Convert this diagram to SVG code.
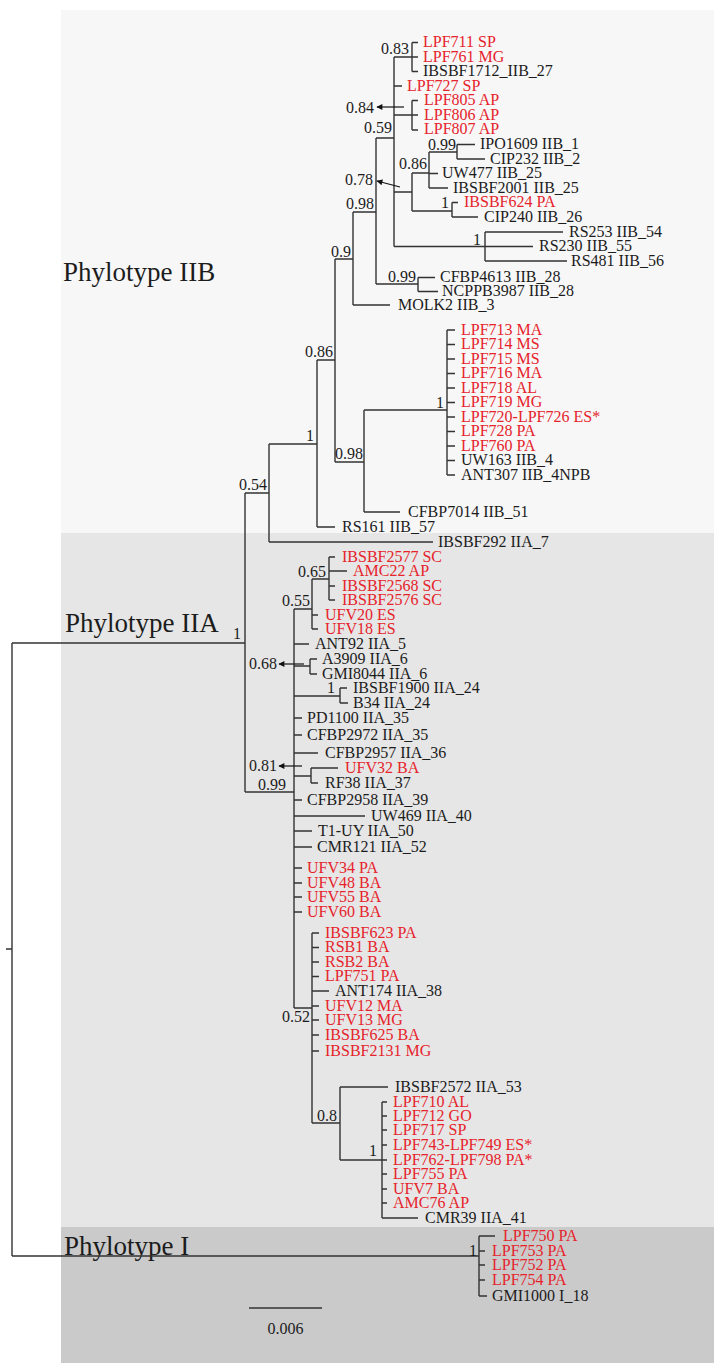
<svg xmlns="http://www.w3.org/2000/svg" width="714" height="1363" viewBox="0 0 714 1363">
<style>
  text { font-family: "Liberation Serif", "Times New Roman", serif; font-size: 16px; }
  .k { fill: #1c1c1c; }
  .r { fill: #e6232b; }
  .sv { fill: #1c1c1c; text-anchor: end; }
  .ph { fill: #1c1c1c; font-size: 27px; }
  .br { fill: none; stroke: #333; stroke-width: 1.4; }
  .ar { fill: none; stroke: #111; stroke-width: 1.2; }
</style>
<defs>
  <marker id="head" viewBox="0 0 10 10" refX="9" refY="5" markerWidth="7" markerHeight="6" orient="auto" markerUnits="userSpaceOnUse">
    <path d="M0,0 L10,5 L0,10 Z" fill="#111"/>
  </marker>
</defs>

<!-- clade panels -->
<g id="panels">
  <rect x="61" y="10" width="653" height="523" fill="#f7f7f7"/>
  <rect x="61" y="533" width="653" height="694" fill="#e6e6e6"/>
  <rect x="61" y="1227" width="653" height="136" fill="#cacaca"/>
</g>

<g id="clade-labels">
  <text class="ph" x="63" y="281">Phylotype IIB</text>
  <text class="ph" x="65" y="632">Phylotype IIA</text>
  <text class="ph" x="64" y="1255">Phylotype I</text>
</g>

<!-- tree branches -->
<g id="connectors" class="br">
  <path d="M6,949H12 M12,643V1256 M12,643H245 M12,1256H479"/>
  <!-- phylotype II -->
  <path d="M245,493V792 M245,493H269 M245,792H294"/>
  <path d="M269,444V542 M269,444H317 M269,542H433"/>
  <path d="M317,360V527 M317,360H335 M317,527H335"/>
  <path d="M335,259V462 M335,259H353 M335,462H364"/>
  <path d="M353,212V305 M353,212H376 M353,305H390"/>
  <path d="M376,138V284 M376,138H394 M376,284H418"/>
  <path d="M418,277.5V291.5 M418,277.5H435 M418,291.5H438"/>
  <path d="M394,57V246.5 M394,57H412 M394,86H402 M394,115H412 M394,192H412 M394,246.5H485"/>
  <path d="M412,42.5V71.5 M412,42.5H418 M412,57H418 M412,71.5H418"/>
  <path d="M412,100.5V130 M412,100.5H418 M412,115H418 M412,130H418"/>
  <path d="M412,173V211 M412,173H429 M412,211H452"/>
  <path d="M429,152V188 M429,152H457 M429,173.5H438 M429,188H448"/>
  <path d="M457,144.5V159 M457,144.5H475 M457,159H485"/>
  <path d="M452,202.5V217 M452,202.5H458 M452,217H478"/>
  <path d="M485,232V261 M485,232H563 M485,246.5H533 M485,261H567"/>
  <path d="M364,410V512 M364,410H447 M364,512H400"/>
  <path d="M447,330V475 M447,330H455 M447,344.5H455 M447,359H455 M447,373.5H455 M447,388H455 M447,402.5H455 M447,417H455 M447,431.5H455 M447,446H455 M447,460.5H455 M447,475H455"/>
  <!-- phylotype IIA -->
  <path d="M294,609V1008 M294,609H312 M294,644H309 M294,666H310 M294,696H340 M294,718H302 M294,735H302 M294,753H318 M294,776H311 M294,800H302 M294,816H365 M294,831H312 M294,847H312 M294,868H302 M294,883H302 M294,897H302 M294,912H302 M294,1008H312"/>
  <path d="M312,579V629 M312,579H329 M312,615H318 M312,629H318"/>
  <path d="M329,557V600 M329,557H335 M329,571H347 M329,586H335 M329,600H335"/>
  <path d="M310,659V674 M310,659H317 M310,674H317"/>
  <path d="M340,688V703 M340,688H347 M340,703H348"/>
  <path d="M311,768V783 M311,768H338 M311,783H318"/>
  <path d="M312,933V1123 M312,933H319 M312,947.5H319 M312,962H319 M312,976.5H319 M312,991H329 M312,1006H319 M312,1020H319 M312,1035H319 M312,1051H319 M312,1123H340"/>
  <path d="M340,1087V1160 M340,1087H388 M340,1160H382"/>
  <path d="M382,1102V1218 M382,1102H387 M382,1116H387 M382,1130H387 M382,1145H387 M382,1160H387 M382,1174H387 M382,1189H387 M382,1203H387 M382,1218H418"/>
  <!-- phylotype I -->
  <path d="M479,1236V1296 M479,1236H495 M479,1251H485 M479,1265H485 M479,1280H485 M479,1296H487"/>
  <!-- pointers from support values to their nodes -->
  <g class="ar">
    <path d="M404,107H377" marker-end="url(#head)"/>
    <path d="M400,187L377,181" marker-end="url(#head)"/>
    <path d="M304,664H279" marker-end="url(#head)"/>
    <path d="M302,766H279" marker-end="url(#head)"/>
  </g>
</g>

<!-- support values -->
<g id="support">
  <text class="sv" x="409" y="53.5">0.83</text>
  <text class="sv" x="374" y="112.5">0.84</text>
  <text class="sv" x="392" y="133">0.59</text>
  <text class="sv" x="456" y="150">0.99</text>
  <text class="sv" x="427" y="169">0.86</text>
  <text class="sv" x="373" y="184.5">0.78</text>
  <text class="sv" x="449" y="208">1</text>
  <text class="sv" x="374" y="208.5">0.98</text>
  <text class="sv" x="481" y="245">1</text>
  <text class="sv" x="351" y="257">0.9</text>
  <text class="sv" x="416" y="282">0.99</text>
  <text class="sv" x="333" y="357">0.86</text>
  <text class="sv" x="444" y="408">1</text>
  <text class="sv" x="314" y="441">1</text>
  <text class="sv" x="363" y="459">0.98</text>
  <text class="sv" x="267" y="490">0.54</text>
  <text class="sv" x="241" y="639">1</text>
  <text class="sv" x="326" y="577">0.65</text>
  <text class="sv" x="310" y="606">0.55</text>
  <text class="sv" x="277" y="669">0.68</text>
  <text class="sv" x="335" y="693">1</text>
  <text class="sv" x="277" y="771">0.81</text>
  <text class="sv" x="286" y="790">0.99</text>
  <text class="sv" x="310" y="1022">0.52</text>
  <text class="sv" x="337" y="1121">0.8</text>
  <text class="sv" x="377" y="1156">1</text>
  <text class="sv" x="477" y="1256">1</text>
</g>

<!-- leaves: phylotype IIB -->
<g id="n-LPF711"><text class="r" x="423" y="47">LPF711 SP</text></g>
<g id="n-LPF761"><text class="r" x="423" y="61.5">LPF761 MG</text></g>
<g id="n-IBSBF1712"><text class="k" x="423" y="76">IBSBF1712_IIB_27</text></g>
<g id="n-LPF727"><text class="r" x="407" y="90.5">LPF727 SP</text></g>
<g id="n-LPF805"><text class="r" x="424" y="105">LPF805 AP</text></g>
<g id="n-LPF806"><text class="r" x="424" y="119.5">LPF806 AP</text></g>
<g id="n-LPF807"><text class="r" x="424" y="134">LPF807 AP</text></g>
<g id="n-IPO1609"><text class="k" x="480" y="149">IPO1609 IIB_1</text></g>
<g id="n-CIP232"><text class="k" x="490" y="163.5">CIP232 IIB_2</text></g>
<g id="n-UW477"><text class="k" x="442" y="178">UW477 IIB_25</text></g>
<g id="n-IBSBF2001"><text class="k" x="453" y="192.5">IBSBF2001 IIB_25</text></g>
<g id="n-IBSBF624"><text class="r" x="464" y="207">IBSBF624 PA</text></g>
<g id="n-CIP240"><text class="k" x="484" y="221.5">CIP240 IIB_26</text></g>
<g id="n-RS253"><text class="k" x="569" y="236.5">RS253 IIB_54</text></g>
<g id="n-RS230"><text class="k" x="539" y="251">RS230 IIB_55</text></g>
<g id="n-RS481"><text class="k" x="571" y="265.5">RS481 IIB_56</text></g>
<g id="n-CFBP4613"><text class="k" x="440" y="282">CFBP4613 IIB_28</text></g>
<g id="n-NCPPB3987"><text class="k" x="442" y="296">NCPPB3987 IIB_28</text></g>
<g id="n-MOLK2"><text class="k" x="398" y="309.5">MOLK2 IIB_3</text></g>
<g id="n-LPF713"><text class="r" x="461" y="334.5">LPF713 MA</text></g>
<g id="n-LPF714"><text class="r" x="461" y="349">LPF714 MS</text></g>
<g id="n-LPF715"><text class="r" x="461" y="363.5">LPF715 MS</text></g>
<g id="n-LPF716"><text class="r" x="461" y="378">LPF716 MA</text></g>
<g id="n-LPF718"><text class="r" x="461" y="392.5">LPF718 AL</text></g>
<g id="n-LPF719"><text class="r" x="461" y="407">LPF719 MG</text></g>
<g id="n-LPF720"><text class="r" x="461" y="421.5">LPF720-LPF726 ES*</text></g>
<g id="n-LPF728"><text class="r" x="461" y="436">LPF728 PA</text></g>
<g id="n-LPF760"><text class="r" x="461" y="450.5">LPF760 PA</text></g>
<g id="n-UW163"><text class="k" x="461" y="465">UW163 IIB_4</text></g>
<g id="n-ANT307"><text class="k" x="461" y="479.5">ANT307 IIB_4NPB</text></g>
<g id="n-CFBP7014"><text class="k" x="408" y="516.5">CFBP7014 IIB_51</text></g>
<g id="n-RS161"><text class="k" x="342" y="531.5">RS161 IIB_57</text></g>
<g id="n-IBSBF292"><text class="k" x="438" y="546.5">IBSBF292 IIA_7</text></g>

<!-- leaves: phylotype IIA -->
<g id="n-IBSBF2577"><text class="r" x="342" y="561.5">IBSBF2577 SC</text></g>
<g id="n-AMC22"><text class="r" x="353" y="575.5">AMC22 AP</text></g>
<g id="n-IBSBF2568"><text class="r" x="342" y="590.5">IBSBF2568 SC</text></g>
<g id="n-IBSBF2576"><text class="r" x="342" y="604.5">IBSBF2576 SC</text></g>
<g id="n-UFV20"><text class="r" x="325" y="619.5">UFV20 ES</text></g>
<g id="n-UFV18"><text class="r" x="325" y="633.5">UFV18 ES</text></g>
<g id="n-ANT92"><text class="k" x="315" y="648.5">ANT92 IIA_5</text></g>
<g id="n-A3909"><text class="k" x="322" y="663.5">A3909 IIA_6</text></g>
<g id="n-GMI8044"><text class="k" x="322" y="678.5">GMI8044 IIA_6</text></g>
<g id="n-IBSBF1900"><text class="k" x="353" y="692.5">IBSBF1900 IIA_24</text></g>
<g id="n-B34"><text class="k" x="353" y="707.5">B34 IIA_24</text></g>
<g id="n-PD1100"><text class="k" x="307" y="722.5">PD1100 IIA_35</text></g>
<g id="n-CFBP2972"><text class="k" x="307" y="739.5">CFBP2972 IIA_35</text></g>
<g id="n-CFBP2957"><text class="k" x="325" y="757.5">CFBP2957 IIA_36</text></g>
<g id="n-UFV32"><text class="r" x="345" y="772.5">UFV32 BA</text></g>
<g id="n-RF38"><text class="k" x="325" y="787.5">RF38 IIA_37</text></g>
<g id="n-CFBP2958"><text class="k" x="307" y="804.5">CFBP2958 IIA_39</text></g>
<g id="n-UW469"><text class="k" x="371" y="820.5">UW469 IIA_40</text></g>
<g id="n-T1-UY"><text class="k" x="318" y="835.5">T1-UY IIA_50</text></g>
<g id="n-CMR121"><text class="k" x="317" y="851.5">CMR121 IIA_52</text></g>
<g id="n-UFV34"><text class="r" x="307" y="872.5">UFV34 PA</text></g>
<g id="n-UFV48"><text class="r" x="307" y="887.5">UFV48 BA</text></g>
<g id="n-UFV55"><text class="r" x="307" y="901.5">UFV55 BA</text></g>
<g id="n-UFV60"><text class="r" x="307" y="916.5">UFV60 BA</text></g>
<g id="n-IBSBF623"><text class="r" x="325" y="937.5">IBSBF623 PA</text></g>
<g id="n-RSB1"><text class="r" x="325" y="952">RSB1 BA</text></g>
<g id="n-RSB2"><text class="r" x="325" y="966.5">RSB2 BA</text></g>
<g id="n-LPF751"><text class="r" x="325" y="981">LPF751 PA</text></g>
<g id="n-ANT174"><text class="k" x="335" y="995.5">ANT174 IIA_38</text></g>
<g id="n-UFV12"><text class="r" x="325" y="1010.5">UFV12 MA</text></g>
<g id="n-UFV13"><text class="r" x="325" y="1024.5">UFV13 MG</text></g>
<g id="n-IBSBF625"><text class="r" x="325" y="1039.5">IBSBF625 BA</text></g>
<g id="n-IBSBF2131"><text class="r" x="325" y="1055.5">IBSBF2131 MG</text></g>
<g id="n-IBSBF2572"><text class="k" x="395" y="1091.5">IBSBF2572 IIA_53</text></g>
<g id="n-LPF710"><text class="r" x="393" y="1106.5">LPF710 AL</text></g>
<g id="n-LPF712"><text class="r" x="393" y="1120.5">LPF712 GO</text></g>
<g id="n-LPF717"><text class="r" x="393" y="1134.5">LPF717 SP</text></g>
<g id="n-LPF743"><text class="r" x="393" y="1149.5">LPF743-LPF749 ES*</text></g>
<g id="n-LPF762"><text class="r" x="393" y="1164.5">LPF762-LPF798 PA*</text></g>
<g id="n-LPF755"><text class="r" x="393" y="1178.5">LPF755 PA</text></g>
<g id="n-UFV7"><text class="r" x="393" y="1193.5">UFV7 BA</text></g>
<g id="n-AMC76"><text class="r" x="393" y="1207.5">AMC76 AP</text></g>
<g id="n-CMR39"><text class="k" x="425" y="1222.5">CMR39 IIA_41</text></g>

<!-- leaves: phylotype I -->
<g id="n-LPF750"><text class="r" x="503" y="1240.5">LPF750 PA</text></g>
<g id="n-LPF753"><text class="r" x="492" y="1255.5">LPF753 PA</text></g>
<g id="n-LPF752"><text class="r" x="492" y="1269.5">LPF752 PA</text></g>
<g id="n-LPF754"><text class="r" x="492" y="1284.5">LPF754 PA</text></g>
<g id="n-GMI1000"><text class="k" x="492" y="1300.5">GMI1000 I_18</text></g>

<!-- scale bar -->
<g id="scale">
  <path class="br" d="M249,1308H322"/>
  <text class="k" x="285.5" y="1334" text-anchor="middle" font-size="15">0.006</text>
</g>
</svg>
